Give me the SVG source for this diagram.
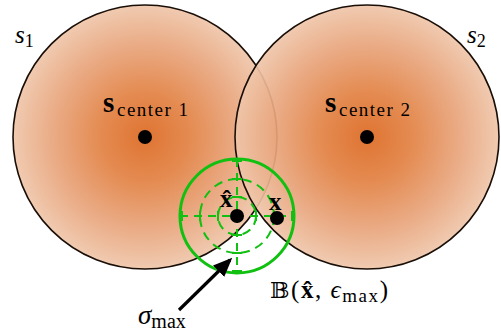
<svg xmlns="http://www.w3.org/2000/svg" width="501" height="335" viewBox="0 0 501 335">
<defs>
<radialGradient id="g" cx="50%" cy="50%" r="50%">
<stop offset="0" stop-color="#dc6820"/>
<stop offset="0.35" stop-color="#e28244"/>
<stop offset="0.7" stop-color="#e8a47b"/>
<stop offset="1" stop-color="#efc6aa"/>
</radialGradient>
<marker id="ah" markerWidth="6" markerHeight="5" refX="5" refY="2.5" orient="auto" markerUnits="strokeWidth">
<path d="M0,0 L6,2.5 L0,5 z" fill="#000"/>
</marker>
</defs>
<style>
.reg{fill:url(#g);fill-opacity:0.92;stroke:#1a0f08;stroke-width:1.6}
.dot{fill:#000}
.t{font-family:"Liberation Serif","DejaVu Serif",serif;fill:#000}
.it{font-style:italic}
.b{font-weight:bold}
.gs{fill:none;stroke:#11c011;stroke-width:3}
.gd{fill:none;stroke:#11c011;stroke-width:2;stroke-dasharray:9 6}
.tk{stroke:#11c011;stroke-width:2}
</style>
<rect width="501" height="335" fill="#fff"/>
<g id="s1">
<circle class="reg" cx="145" cy="137" r="132"/>
</g>
<g id="s2">
<circle class="reg" cx="367" cy="137" r="132"/>
</g>
<g id="labels-regions">
<text class="t it" x="15" y="43" font-size="25">s<tspan font-size="18" font-style="normal" dy="4">1</tspan></text>
<text class="t it" x="467" y="43" font-size="25">s<tspan font-size="18" font-style="normal" dy="4">2</tspan></text>
</g>
<g id="center1">
<circle class="dot" cx="145" cy="137" r="7"/>
<text class="t b" x="103" y="112" font-size="29">s</text>
<text class="t" x="117" y="116" font-size="19" textLength="71" lengthAdjust="spacing">center 1</text>
</g>
<g id="center2">
<circle class="dot" cx="367" cy="137" r="7"/>
<text class="t b" x="325" y="112" font-size="29">s</text>
<text class="t" x="339" y="116" font-size="19" textLength="71" lengthAdjust="spacing">center 2</text>
</g>
<g id="ball">
<circle class="gs" cx="237" cy="216" r="57"/>
<circle class="gd" cx="237" cy="216" r="37"/>
<circle class="gd" cx="237" cy="216" r="19"/>
<g class="tk">
<line x1="237" y1="159" x2="237" y2="273" stroke-dasharray="8 6"/>
<line x1="180" y1="216" x2="294" y2="216" stroke-dasharray="8 6"/>
<line x1="232" y1="197" x2="242" y2="197"/><line x1="232" y1="179" x2="242" y2="179"/><line x1="232" y1="161" x2="242" y2="161"/>
<line x1="232" y1="235" x2="242" y2="235"/><line x1="232" y1="253" x2="242" y2="253"/><line x1="232" y1="271" x2="242" y2="271"/>
<line x1="218" y1="211" x2="218" y2="221"/><line x1="200" y1="211" x2="200" y2="221"/><line x1="182" y1="211" x2="182" y2="221"/>
<line x1="256" y1="211" x2="256" y2="221"/><line x1="274" y1="211" x2="274" y2="221"/><line x1="292" y1="211" x2="292" y2="221"/>
</g>
<text class="t" x="270" y="298" font-size="25" textLength="118" lengthAdjust="spacing"><tspan font-family="DejaVu Serif,serif" font-size="23">𝔹</tspan>(<tspan font-weight="bold">x̂</tspan>, <tspan font-style="italic">ϵ</tspan><tspan font-size="19" dy="4">max</tspan><tspan dy="-4">)</tspan></text>
</g>
<g id="xhat">
<circle class="dot" cx="237" cy="216" r="7"/>
<text class="t b" x="220" y="207" font-size="25">x̂</text>
</g>
<g id="x">
<circle class="dot" cx="277" cy="218" r="7"/>
<text class="t b" x="269" y="210" font-size="25">x</text>
</g>
<g id="connectors">
<line x1="179" y1="310" x2="230" y2="260" stroke="#000" stroke-width="3.2" marker-end="url(#ah)"/>
</g>
<g id="sigma">
<text class="t it" x="138" y="324" font-size="27">σ<tspan font-style="normal" font-size="20" dy="4">max</tspan></text>
</g>
</svg>
